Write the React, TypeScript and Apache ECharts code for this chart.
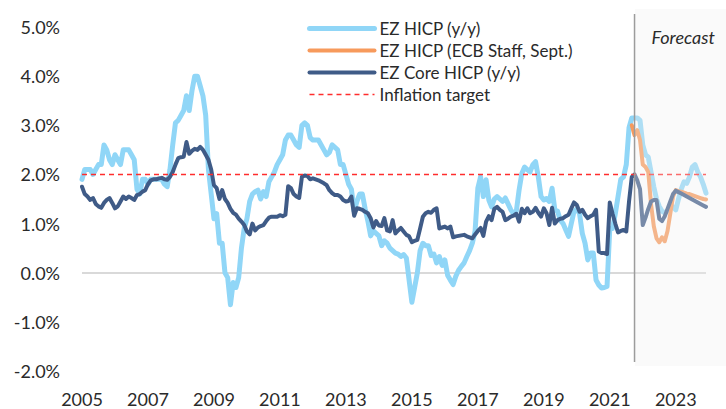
import React, { useEffect, useRef } from "react";
import * as echarts from "echarts";

// Monthly categories Jan 2005 – Dec 2023
const startYear = 2005;
const endYear = 2023;
const months: string[] = [];
for (let y = startYear; y <= endYear; y++) {
  for (let m = 1; m <= 12; m++) months.push(`${y}-${String(m).padStart(2, "0")}`);
}

// EZ HICP (y/y), % — one row per year
const hicp: number[] = [
  1.9, 2.1, 2.1, 2.1, 2.0, 2.1, 2.2, 2.2, 2.6, 2.5, 2.3, 2.2, // 2005
  2.4, 2.3, 2.2, 2.5, 2.5, 2.5, 2.4, 2.3, 1.7, 1.6, 1.9, 1.9, // 2006
  1.8, 1.9, 1.9, 1.9, 1.9, 1.9, 1.8, 1.75, 2.1, 2.6, 3.05, 3.1, // 2007
  3.2, 3.3, 3.6, 3.3, 3.7, 4.0, 4.0, 3.8, 3.6, 3.2, 2.1, 1.6, // 2008
  1.1, 1.2, 0.6, 0.6, 0.0, -0.1, -0.65, -0.2, -0.3, -0.1, 0.5, 0.9, // 2009
  1.1, 1.45, 1.6, 1.65, 1.68, 1.5, 1.65, 1.55, 1.85, 1.95, 2.05, 2.2, // 2010
  2.3, 2.4, 2.7, 2.8, 2.8, 2.7, 2.6, 2.55, 3.0, 3.05, 3.0, 2.75, // 2011
  2.7, 2.7, 2.7, 2.6, 2.5, 2.4, 2.45, 2.6, 2.55, 2.5, 2.2, 2.2, // 2012
  2.0, 1.8, 1.7, 1.25, 1.45, 1.6, 1.6, 1.3, 1.05, 0.75, 0.85, 0.8, // 2013
  0.75, 0.55, 0.65, 0.6, 0.5, 0.45, 0.4, 0.38, 0.33, 0.37, 0.3, -0.15, // 2014
  -0.6, -0.3, 0.0, 0.45, 0.6, 0.55, 0.55, 0.35, 0.38, 0.2, 0.33, 0.15, // 2015
  0.26, -0.05, -0.15, -0.24, -0.07, 0.05, 0.13, 0.2, 0.33, 0.45, 0.6, 0.85, // 2016
  1.72, 1.95, 1.55, 1.89, 1.48, 1.34, 1.5, 1.55, 1.5, 1.45, 1.52, 1.4, // 2017
  1.28, 1.2, 1.25, 1.68, 2.02, 2.15, 2.1, 2.05, 2.2, 2.26, 1.95, 1.55, // 2018
  1.48, 1.51, 1.45, 1.72, 1.28, 1.25, 1.07, 1.0, 0.87, 0.74, 1.0, 1.25, // 2019
  1.3, 1.2, 0.8, 0.6, 0.26, 0.4, 0.4, -0.15, -0.25, -0.31, -0.3, -0.28, // 2020
  0.9, 0.9, 1.2, 1.55, 1.9, 1.95, 2.2, 2.95, 3.15, 3.15, 3.15, 3.1, // 2021
  2.6, 2.4, 2.35, 2.05, 1.75, 1.5, 1.35, 1.25, 1.22, 1.25, 1.32, 1.34, // 2022
  1.28, 1.5, 1.7, 1.85, 1.82, 1.95, 2.15, 2.2, 2.05, 1.95, 1.8, 1.62, // 2023
];

// EZ Core HICP (y/y), %
const core: number[] = [
  1.75, 1.6, 1.55, 1.48, 1.52, 1.4, 1.35, 1.32, 1.42, 1.48, 1.52, 1.42, // 2005
  1.31, 1.35, 1.45, 1.55, 1.5, 1.55, 1.52, 1.48, 1.58, 1.6, 1.65, 1.68, // 2006
  1.8, 1.88, 1.9, 1.9, 1.92, 1.93, 1.9, 1.89, 1.95, 2.05, 2.2, 2.33, // 2007
  2.35, 2.36, 2.66, 2.42, 2.48, 2.52, 2.5, 2.56, 2.5, 2.4, 2.3, 2.1, // 2008
  1.78, 1.72, 1.5, 1.68, 1.5, 1.42, 1.3, 1.22, 1.18, 1.1, 1.04, 0.97, // 2009
  0.84, 0.78, 1.0, 0.86, 0.92, 0.95, 0.97, 1.05, 1.12, 1.14, 1.14, 1.14, // 2010
  1.17, 1.15, 1.18, 1.76, 1.72, 1.6, 1.55, 1.52, 1.95, 1.98, 1.97, 1.9, // 2011
  1.92, 1.9, 1.88, 1.85, 1.82, 1.78, 1.68, 1.62, 1.58, 1.58, 1.55, 1.48, // 2012
  1.45, 1.46, 1.55, 1.16, 1.31, 1.3, 1.28, 1.24, 1.21, 1.11, 0.92, 1.05, // 2013
  0.96, 0.95, 1.11, 0.86, 0.84, 1.07, 0.8, 0.86, 0.91, 0.84, 0.77, 0.74, // 2014
  0.62, 0.65, 0.67, 0.9, 1.14, 1.21, 1.24, 1.22, 1.28, 1.31, 0.9, 0.92, // 2015
  0.94, 0.9, 0.94, 0.72, 0.74, 0.75, 0.76, 0.77, 0.74, 0.72, 0.7, 0.78, // 2016
  0.85, 0.91, 0.75, 1.04, 1.15, 1.07, 1.3, 1.34, 1.28, 1.24, 1.07, 1.1, // 2017
  1.14, 1.16, 1.2, 1.04, 1.3, 1.21, 1.31, 1.21, 1.24, 1.32, 1.22, 1.14, // 2018
  1.31, 1.21, 0.97, 1.32, 1.0, 1.07, 1.1, 1.11, 1.15, 1.18, 1.31, 1.43, // 2019
  1.38, 1.24, 1.28, 1.18, 1.11, 1.15, 1.18, 1.28, 0.43, 0.4, 0.4, 0.38, // 2020
  1.43, 1.2, 1.0, 0.82, 0.85, 0.87, 0.84, 1.45, 1.95, 2.0, 1.88, 1.7, // 2021
  0.97, 1.12, 1.3, 1.45, 1.48, 1.48, 1.1, 1.05, 1.15, 1.3, 1.45, 1.6, // 2022
  1.67, 1.64, 1.61, 1.58, 1.55, 1.52, 1.49, 1.46, 1.43, 1.4, 1.37, 1.34, // 2023
];

// EZ HICP (ECB Staff, Sept.) projection, starting Sep 2021
const ecbStart = "2021-09";
const ecbStaff: number[] = [
  3.0, 2.8, 2.9, 2.7, 2.2, 2.15, 2.05, 1.4, 0.95, 0.7, 0.62, 0.72,
  0.64, 0.85, 1.2, 1.55, 1.68, 1.66, 1.65, 1.63, 1.61, 1.6, 1.58, 1.56,
  1.54, 1.52, 1.5, 1.49,
];

const inflationTarget = 2.0;
const forecastStart = "2021-10";
const yTicks = { min: -2, max: 5, interval: 1 };

const seriesNames = [
  "EZ HICP (y/y)",
  "EZ HICP (ECB Staff, Sept.)",
  "EZ Core HICP (y/y)",
  "Inflation target",
];

const FONT = "Lato, 'Open Sans', sans-serif";
const TEXT = "#2a2a2a";

export default function App() {
  const ref = useRef<HTMLDivElement>(null);

  useEffect(() => {
    document.body.style.margin = "0";
    if (!ref.current) return;
    const chart = echarts.init(ref.current, undefined, { renderer: "svg" });
    const ecbIdx = months.indexOf(ecbStart);
    const option: any = {
      animation: false,
      backgroundColor: "#ffffff",
      textStyle: { fontFamily: FONT },
      grid: { left: 82, right: 20, top: 27, bottom: 38, containLabel: false },
      legend: {
        orient: "vertical",
        left: 302,
        top: 15,
        itemWidth: 65,
        itemHeight: 14,
        itemGap: 5,
        data: seriesNames,
        textStyle: { fontSize: 17, color: TEXT, fontFamily: FONT },
        itemStyle: { opacity: 0, borderWidth: 0 },
        lineStyle: { width: "inherit", cap: "inherit", type: "inherit", opacity: 1 },
      },
      xAxis: {
        type: "category",
        data: months,
        boundaryGap: false,
        axisLine: { show: false },
        axisTick: { show: false },
        splitLine: { show: false },
        axisLabel: {
          interval: (i: number) => i % 24 === 0,
          formatter: (v: string) => v.slice(0, 4),
          fontSize: 18,
          color: TEXT,
          fontFamily: FONT,
          margin: 19,
        },
      },
      yAxis: {
        type: "value",
        min: yTicks.min,
        max: yTicks.max,
        interval: yTicks.interval,
        axisLine: { show: false },
        axisTick: { show: false },
        splitLine: { show: false },
        axisLabel: {
          formatter: (v: number) => v.toFixed(1) + "%",
          fontSize: 18,
          color: TEXT,
          fontFamily: FONT,
          margin: 22,
        },
      },
      series: [
        {
          name: seriesNames[0],
          type: "line",
          data: hicp,
          symbol: "none",
          z: 2,
          lineStyle: { color: "#90d6f7", width: 5, cap: "round", join: "round" },
          itemStyle: { color: "#90d6f7" },
        },
        {
          name: seriesNames[1],
          type: "line",
          data: ecbStaff.map((v, i) => [months[ecbIdx + i], v]),
          symbol: "none",
          z: 3,
          lineStyle: { color: "#f79a5c", width: 4, cap: "round", join: "round" },
          itemStyle: { color: "#f79a5c" },
        },
        {
          name: seriesNames[2],
          type: "line",
          data: core,
          symbol: "none",
          z: 4,
          lineStyle: { color: "#3f5b87", width: 4, cap: "round", join: "round" },
          itemStyle: { color: "#3f5b87" },
        },
        {
          name: seriesNames[3],
          type: "line",
          data: months.map(() => inflationTarget),
          symbol: "none",
          z: 5,
          lineStyle: { color: "#ff2d2d", width: 1.5, type: [5, 4] },
          itemStyle: { color: "#ff2d2d" },
          markLine: {
            silent: true,
            z: 1,
            symbol: ["none", "none"],
            label: { show: false },
            lineStyle: { color: "#d9d9d9", width: 2, type: "solid" },
            data: [{ yAxis: 0 }],
          },
        },
      ],
    };
    chart.setOption(option);

    const fx = chart.convertToPixel({ xAxisIndex: 0 }, months.indexOf(forecastStart)) as number;
    chart.setOption({
      graphic: [
        {
          type: "rect",
          z: 100,
          silent: true,
          shape: { x: fx + 0.5, y: 9, width: 726 - fx, height: 357 },
          style: { fill: "rgba(238,238,238,0.32)" },
        },
        {
          type: "line",
          z: 101,
          silent: true,
          shape: { x1: fx, y1: 14, x2: fx, y2: 362 },
          style: { stroke: "#9c9c9c", lineWidth: 1.5 },
        },
        {
          type: "text",
          z: 102,
          silent: true,
          x: fx + 17,
          y: 28,
          style: {
            text: "Forecast",
            fontSize: 18,
            fontStyle: "italic",
            fontFamily: FONT,
            fill: TEXT,
          },
        },
      ],
    });

    return () => chart.dispose();
  }, []);

  return <div ref={ref} style={{ width: 726, height: 409 }} />;
}
